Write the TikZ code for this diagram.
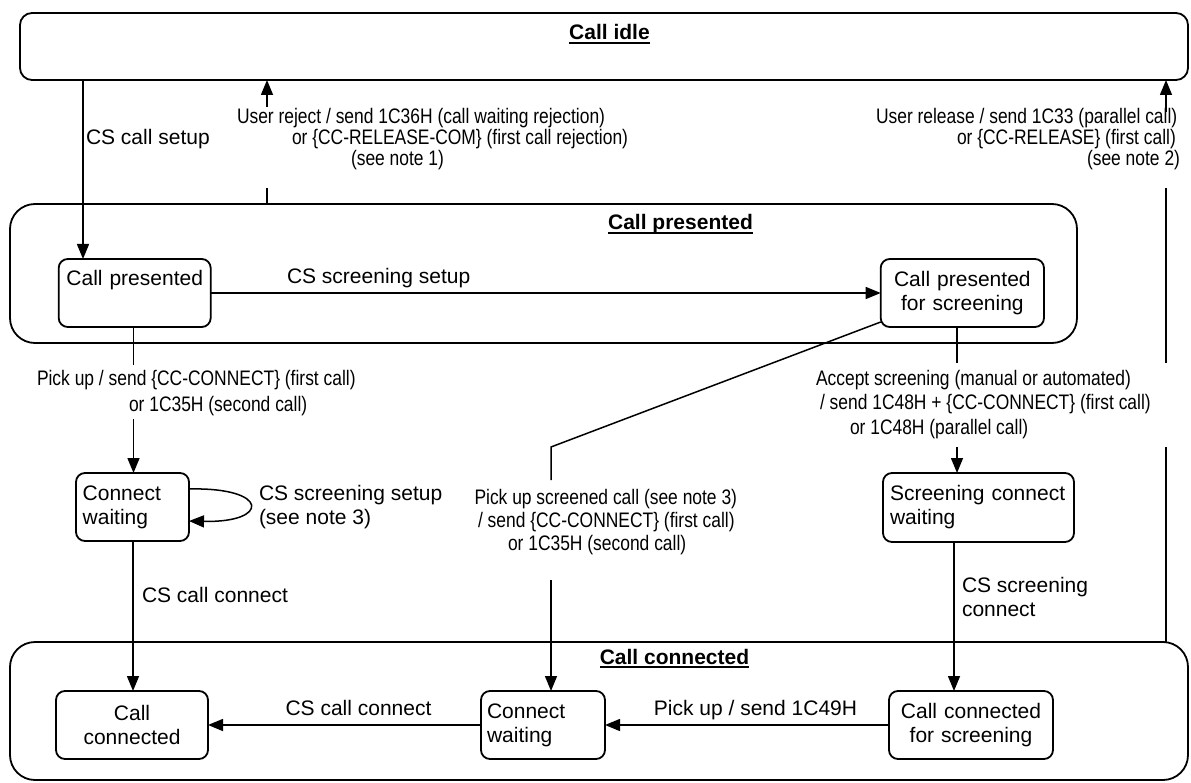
\documentclass[tikz,border=0pt]{standalone}
\usepackage{fontspec}
\setmainfont{Liberation Sans}
\newfontfamily\narrowfont[FakeStretch=0.83]{Liberation Sans}
\usetikzlibrary{arrows.meta}
\newcommand\myul[1]{\setbox0\hbox{#1}\rlap{\rule[-4.2pt]{\wd0}{2pt}}\box0}
\begin{document}
\begin{tikzpicture}[x=1pt,y=-1pt,
  every node/.style={font=\fontsize{21}{24}\selectfont, inner sep=0pt, outer sep=0pt},
  container/.style={draw, line width=1.8pt, rounded corners=25pt},
  stbox/.style={draw, line width=1.8pt, rounded corners=9pt, minimum height=68pt, inner ysep=0pt},
  conn/.style={line width=1.5pt},
  arr/.style={conn, -{Triangle[length=15pt,width=12pt]}},
  nlabel/.style={font=\narrowfont\fontsize{21}{#1}\selectfont, align=left, anchor=north west},
  ttl/.style={anchor=base, font=\bfseries\fontsize{21}{24}\selectfont}
]
\useasboundingbox (0,0) rectangle (1191,783);

% containers
\node[container, rounded corners=12pt, minimum width=1168pt, minimum height=67pt] (idle) at (604,46.5) {};
\node[container, minimum width=1067pt, minimum height=139pt] (cpc) at (543.5,273.5) {};
\node[container, minimum width=1178pt, minimum height=138pt] (ccc) at (599,711) {};

\node[ttl] (tidle) at (609.5,39.5) {\myul{Call idle}};
\node[ttl] (tcp) at (680.5,230) {\myul{Call presented}};
\node[ttl] (tcc) at (674.5,664) {\myul{Call connected}};

% states
\node[stbox, text width=140pt, align=center, inner xsep=6pt] (cpr) at (134.7,293) {Call presented\\[6pt]\phantom{X}};
\node[stbox, text width=151.3pt, align=center, inner xsep=6pt] (cps) at (962.35,293) {Call presented\\for screening};
\node[stbox, text width=99.6pt, align=left, inner xsep=6.7pt] (cw1) at (132.5,507) {Connect\\waiting};
\node[stbox, text width=177pt, align=left, inner xsep=7pt, minimum height=69pt] (scw) at (978.5,507.5) {Screening connect\\waiting};
\node[stbox, text width=140pt, align=center, inner xsep=6pt] (cc) at (132,725) {Call\\connected};
\node[stbox, text width=112pt, align=left, inner xsep=6pt] (cw2) at (543,725) {Connect\\waiting};
\node[stbox, text width=152pt, align=center, inner xsep=6pt] (ccs) at (971,725) {Call connected\\for screening};

% CS call setup
\draw[arr] (83,0 |- idle.south) -- (83,0 |- cpr.north);
\node[anchor=base west] (lcs) at (86,145) {CS call setup};

% user reject
\coordinate (rjlo) at (267,188);
\coordinate (rjhi) at (267,107);
\draw[conn] (267,0 |- cpc.north) -- (rjlo);
\draw[arr] (rjhi) -- (267,0 |- idle.south);
\node[nlabel=21pt] (lrj) at (237,108) {User reject / send 1C36H (call waiting rejection)\\\hspace*{55pt}or \{CC-RELEASE-COM\} (first call rejection)\\\hspace*{114pt}(see note 1)};

% user release
\coordinate (rl1) at (1166,447);
\coordinate (rl2) at (1166,363);
\coordinate (rl3) at (1166,188);
\coordinate (rl4) at (1166,112);
\draw[conn] (1166,0 |- ccc.north) -- (rl1);
\draw[conn] (rl2) -- (rl3);
\draw[arr] (rl4) -- (1166,0 |- idle.south);
\node[nlabel=21pt] (lrl) at (876,108) {User release / send 1C33 (parallel call)\\\hspace*{81pt}or \{CC-RELEASE\} (first call)\\\hspace*{211pt}(see note 2)};

% CS screening setup
\draw[arr] (cpr.east) -- (cps.west);
\node[anchor=base west] (lss) at (287,284) {CS screening setup};

% pick up
\coordinate (pu1) at (133.5,365);
\coordinate (pu2) at (133.5,419);
\draw[conn] (133.5,0 |- cpr.south) -- (pu1);
\draw[arr] (pu2) -- (133.5,0 |- cw1.north);
\node[nlabel=26pt] (lpu) at (37,370) {Pick up / send \{CC-CONNECT\} (first call)\\\hspace*{92pt}or 1C35H (second call)};

% self loop
\draw[arr] (cw1.east |- 0,489) .. controls (270,487) and (270,523) .. (cw1.east |- 0,521);
\node[anchor=north west, align=left] (lsl) at (259,485) {CS screening setup\\(see note 3)};

% CS call connect (vertical)
\draw[arr] (133,0 |- cw1.south) -- (133,0 |- cc.north);
\node[anchor=base west] (lcc1) at (142,602) {CS call connect};

% pick up screened call
\coordinate (dg) at (551,447);
\coordinate (dg2) at (551,480);
\coordinate (dg3) at (551,580);
\draw[conn] ([yshift=5pt]cps.south west) -- (dg) -- (dg2);
\draw[arr] (dg3) -- (551,0 |- cw2.north);
\node[nlabel=23pt] (lps) at (474.5,489) {Pick up screened call (see note 3)\\\hspace*{3.5pt}/ send \{CC-CONNECT\} (first call)\\\hspace*{33.5pt}or 1C35H (second call)};

% accept screening
\coordinate (ac1) at (957,363);
\coordinate (ac2) at (957,447);
\draw[conn] (957,0 |- cps.south) -- (ac1);
\draw[arr] (ac2) -- (957,0 |- scw.north);
\node[nlabel=24.5pt] (lac) at (816,370) {Accept screening (manual or automated)\\\hspace*{4pt}/ send 1C48H + \{CC-CONNECT\} (first call)\\\hspace*{34pt}or 1C48H (parallel call)};

% CS screening connect
\draw[arr] (954,0 |- scw.south) -- (954,0 |- ccs.north);
\node[anchor=north west, align=left] (lsc) at (962,577) {CS screening\\connect};

% bottom horizontals
\draw[arr] (cw2.west) -- (cc.east);
\node[anchor=base] (lcc2) at (358.5,715) {CS call connect};
\draw[arr] (ccs.west) -- (cw2.east);
\node[anchor=base] (lpk) at (755.5,715) {Pick up / send 1C49H};
\end{tikzpicture}
\end{document}
